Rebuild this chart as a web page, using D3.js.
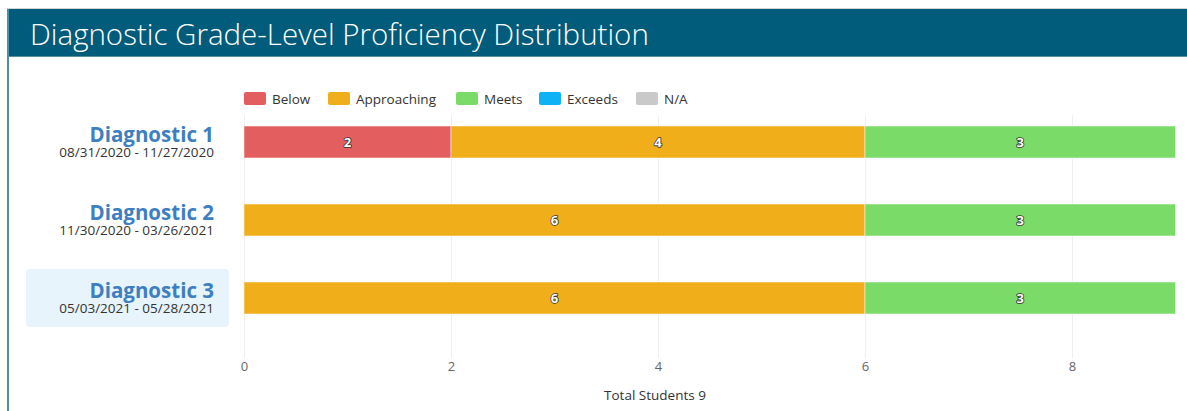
<!DOCTYPE html>
<html>
<head>
<meta charset="utf-8">
<script src="https://cdn.jsdelivr.net/npm/d3@7"></script>
<style>
  html, body { margin: 0; padding: 0; background: #fff; }
  svg { display: block; font-family: "Open Sans", "Noto Sans", sans-serif; }
</style>
</head>
<body>
<svg id="chart" width="1187" height="411"></svg>
<script>
// Assessment windows
const categories = ["Diagnostic 1", "Diagnostic 2", "Diagnostic 3"];
const dateRanges = ["08/31/2020 - 11/27/2020", "11/30/2020 - 03/26/2021", "05/03/2021 - 05/28/2021"];

// Proficiency levels and student counts per window
const levels = ["Below", "Approaching", "Meets", "Exceeds", "N/A"];
const below       = [2, 0, 0];
const approaching = [4, 6, 6];
const meets       = [3, 3, 3];
const exceeds     = [0, 0, 0];
const notAvailable = [0, 0, 0];

const xTicks = [0, 2, 4, 6, 8];
const totalStudents = 9;
const selectedIndex = 2;

const colors = {
  "Below": "#e35f5f",
  "Approaching": "#f1ae1b",
  "Meets": "#7adb69",
  "Exceeds": "#0fb2f5",
  "N/A": "#c9c9c9"
};

const seriesValues = [below, approaching, meets, exceeds, notAvailable];
const rows = categories.map((c, i) => {
  const r = { category: c, dates: dateRanges[i] };
  levels.forEach((l, k) => r[l] = seriesValues[k][i]);
  return r;
});

const svg = d3.select("#chart");

// Panel frame and header
svg.append("line").attr("x1", 7).attr("x2", 1187).attr("y1", 8.5).attr("y2", 8.5)
  .attr("stroke", "#cfd4d6").attr("stroke-width", 1);
svg.append("rect").attr("x", 7).attr("y", 9).attr("width", 1180).attr("height", 48)
  .attr("fill", "#015b7b");
svg.append("line").attr("x1", 7).attr("x2", 1187).attr("y1", 56.5).attr("y2", 56.5)
  .attr("stroke", "#5d8ea0").attr("stroke-width", 1);
svg.append("rect").attr("x", 7).attr("y", 9).attr("width", 2).attr("height", 402)
  .attr("fill", "#4a8ea8");
svg.append("text").attr("x", 30).attr("y", 45)
  .attr("fill", "#ffffff").attr("font-size", 29.5).attr("font-weight", 300)
  .text("Diagnostic Grade-Level Proficiency Distribution");

// Scales
const x = d3.scaleLinear().domain([0, 9]).range([244, 1175.5]);
const y = d3.scaleBand().domain(categories).range([103, 337])
  .paddingInner(0.59).paddingOuter(0.295);

// Gridlines
svg.append("g").selectAll("line").data(xTicks).join("line")
  .attr("x1", d => Math.round(x(d)) + 0.5).attr("x2", d => Math.round(x(d)) + 0.5)
  .attr("y1", 115).attr("y2", 358)
  .attr("stroke", "#efefef").attr("stroke-width", 1);

// Legend
const legendX = [244, 328, 456, 539, 636];
const legend = svg.append("g");
levels.forEach((l, i) => {
  legend.append("rect").attr("x", legendX[i]).attr("y", 92).attr("width", 22).attr("height", 13)
    .attr("rx", 2).attr("fill", colors[l]);
  legend.append("text").attr("x", legendX[i] + 28).attr("y", 103.5)
    .attr("font-size", 13.5).attr("fill", "#333").text(l);
});

// Selected window highlight
svg.append("rect")
  .attr("x", 26).attr("y", y(categories[selectedIndex]) + y.bandwidth() / 2 - 29)
  .attr("width", 203).attr("height", 58).attr("rx", 4)
  .attr("fill", "#e7f4fb");

// Category labels: window name with its date range beneath
const catG = svg.append("g");
rows.forEach(r => {
  const cy = y(r.category) + y.bandwidth() / 2;
  catG.append("text").attr("x", 214).attr("y", cy).attr("text-anchor", "end")
    .attr("font-size", 20.5).attr("font-weight", 700).attr("fill", "#3d7fc1")
    .text(r.category);
  catG.append("text").attr("x", 214).attr("y", cy + 15).attr("text-anchor", "end")
    .attr("font-size", 13.5).attr("fill", "#333").text(r.dates);
});

// Stacked bars
const stack = d3.stack().keys(levels)(rows);
const barG = svg.append("g");
stack.forEach(layer => {
  const key = layer.key;
  layer.forEach(seg => {
    const v = seg[1] - seg[0];
    if (v <= 0) return;
    const cat = seg.data.category;
    barG.append("rect")
      .attr("x", x(seg[0])).attr("y", y(cat))
      .attr("width", x(seg[1]) - x(seg[0])).attr("height", y.bandwidth())
      .attr("fill", colors[key])
      .attr("stroke", "rgba(255,255,255,0.5)").attr("stroke-width", 1);
    barG.append("text")
      .attr("x", (x(seg[0]) + x(seg[1])) / 2).attr("y", y(cat) + y.bandwidth() / 2 + 5)
      .attr("text-anchor", "middle").attr("font-size", 13).attr("font-weight", 700)
      .attr("fill", "#fff").attr("stroke", "#333").attr("stroke-width", 1.6)
      .attr("paint-order", "stroke").attr("stroke-linejoin", "round")
      .text(v);
  });
});

// X axis labels
const axis = d3.axisBottom(x).tickValues(xTicks).tickSize(0).tickPadding(0);
const axG = svg.append("g").attr("transform", "translate(0,362)").call(axis);
axG.select(".domain").remove();
axG.selectAll("text").attr("font-size", 13).attr("fill", "#666")
  .attr("font-family", "'Open Sans', sans-serif");

svg.append("text").attr("x", 655).attr("y", 400).attr("text-anchor", "middle")
  .attr("font-size", 13.5).attr("fill", "#333").text("Total Students " + totalStudents);
</script>
</body>
</html>
